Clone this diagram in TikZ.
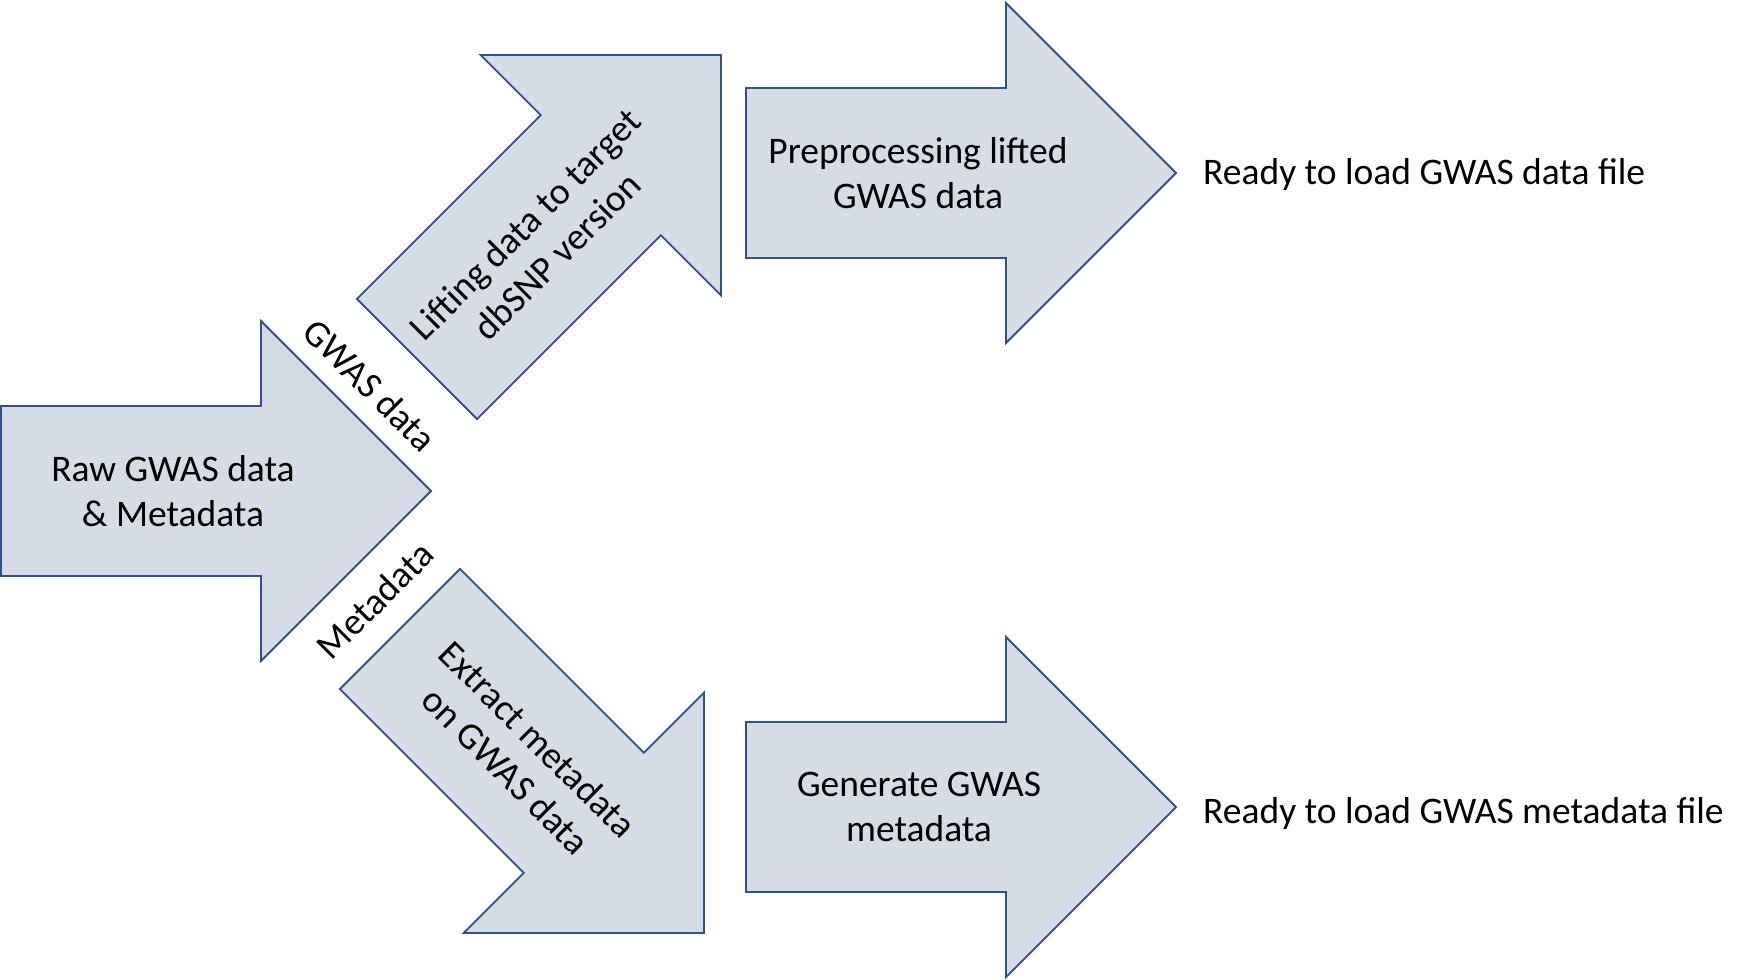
\documentclass[tikz,border=0pt]{standalone}
\usepackage{fontspec}
\setmainfont{Carlito}
\definecolor{arrowfill}{HTML}{D6DCE5}
\definecolor{arrowline}{HTML}{2F528F}
\tikzset{
  bigarrow/.style={fill=arrowfill, draw=arrowline, line width=1.8pt, line join=miter},
  lbl/.style={inner sep=0pt, align=center, font=\fontsize{37.5}{45}\selectfont, text=black},
  endlbl/.style={inner sep=0pt, anchor=base west, font=\fontsize{37.5}{45}\selectfont, text=black}
}
\newcommand{\arrowpath}{(0,-85) -- (260,-85) -- (260,-170) -- (430,0) -- (260,170) -- (260,85) -- (0,85) -- cycle}
\begin{document}
\begin{tikzpicture}[x=1pt, y=-1pt]
\useasboundingbox (0,0) rectangle (1746,980);
% arrows
\draw[bigarrow, shift={(1,491)}] \arrowpath;
\draw[bigarrow, shift={(417,359)}, rotate=45] \arrowpath;
\draw[bigarrow, shift={(400,629)}, rotate=-45] \arrowpath;
\draw[bigarrow, shift={(746,173)}] \arrowpath;
\draw[bigarrow, shift={(746,807)}] \arrowpath;
% texts
\node[lbl] (raw) at (173,491) {Raw GWAS data\\\& Metadata};
\node[lbl, rotate=45] (lift) at (541,240) {Lifting data to target\\dbSNP version};
\node[lbl, rotate=-45] (extract) at (522,755) {Extract metadata\\on GWAS data};
\node[lbl] (prep) at (918,173) {Preprocessing lifted\\GWAS data};
\node[lbl] (gen) at (919,807) {Generate GWAS\\metadata};
\node[lbl, rotate=-45] (gwaslbl) at (370,385) {GWAS data};
\node[lbl, rotate=45] (metalbl) at (375,600) {Metadata};
\node[endlbl] (out1) at (1203,184) {Ready to load GWAS data file};
\node[endlbl] (out2) at (1203,823) {Ready to load GWAS metadata file};
\end{tikzpicture}
\end{document}
